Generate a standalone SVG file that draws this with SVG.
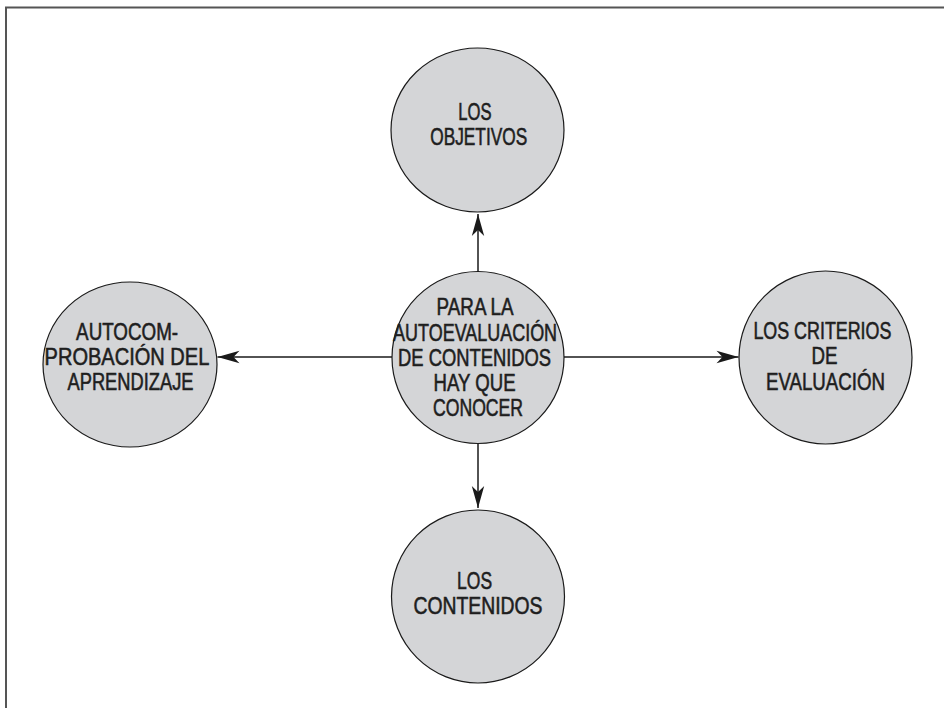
<svg xmlns="http://www.w3.org/2000/svg" width="944" height="708" viewBox="0 0 944 708">
<style>
.node{fill:#d4d5d7;stroke:#1a1a1a;stroke-width:1.2}
.lbl{font-family:"Liberation Sans",Arial,sans-serif;font-size:24.5px;fill:#1e1e1e;stroke:#1e1e1e;stroke-width:0.6;text-anchor:middle}
.conn{stroke:#1a1a1a;stroke-width:1.5;fill:none;marker-end:url(#ah)}
</style>
<defs>
<marker id="ah" markerUnits="userSpaceOnUse" viewBox="-23 -7 24 14" refX="0" refY="0" markerWidth="24" markerHeight="14" orient="auto">
<path d="M0,0 L-22,-6.2 L-16,0 L-22,6.2 Z" fill="#1a1a1a"/>
</marker>
</defs>
<rect width="944" height="708" fill="#ffffff"/>
<path d="M6,708 V7.5 H944" fill="none" stroke="#555" stroke-width="2"/>
<g id="connectors">
<line class="conn" x1="478" y1="271" x2="478" y2="214"/>
<line class="conn" x1="478" y1="444" x2="478" y2="508"/>
<line class="conn" x1="392" y1="357" x2="217.5" y2="357"/>
<line class="conn" x1="564" y1="357" x2="738.5" y2="357"/>
</g>
<g id="center">
<circle class="node" cx="478" cy="357.5" r="86"/>
<text class="lbl">
<tspan x="478" y="315.3" textLength="76" lengthAdjust="spacingAndGlyphs">PARA LA</tspan>
<tspan x="478.5" y="340.7" textLength="164" lengthAdjust="spacingAndGlyphs">AUTOEVALUACIÓN</tspan>
<tspan x="478" y="366" textLength="153" lengthAdjust="spacingAndGlyphs">DE CONTENIDOS</tspan>
<tspan x="478" y="391.2" textLength="82" lengthAdjust="spacingAndGlyphs">HAY QUE</tspan>
<tspan x="478" y="416.3" textLength="90" lengthAdjust="spacingAndGlyphs">CONOCER</tspan>
</text>
</g>
<g id="objetivos">
<ellipse class="node" cx="477.5" cy="130" rx="86.5" ry="82"/>
<text class="lbl">
<tspan x="478.3" y="120.3" textLength="33.3" lengthAdjust="spacingAndGlyphs">LOS</tspan>
<tspan x="478.7" y="145" textLength="97" lengthAdjust="spacingAndGlyphs">OBJETIVOS</tspan>
</text>
</g>
<g id="autocomprobacion">
<ellipse class="node" cx="130" cy="364.5" rx="87" ry="82.5"/>
<text class="lbl">
<tspan x="130.5" y="340" textLength="102" lengthAdjust="spacingAndGlyphs">AUTOCOM-</tspan>
<tspan x="130" y="365" textLength="164" lengthAdjust="spacingAndGlyphs">PROBACIÓN DEL</tspan>
<tspan x="130.5" y="390" textLength="126" lengthAdjust="spacingAndGlyphs">APRENDIZAJE</tspan>
</text>
</g>
<g id="criterios">
<circle class="node" cx="825.5" cy="357.5" r="86.5"/>
<text class="lbl">
<tspan x="825.8" y="339.2" textLength="138" lengthAdjust="spacingAndGlyphs">LOS CRITERIOS</tspan>
<tspan x="828" y="364.2" textLength="26" lengthAdjust="spacingAndGlyphs">DE</tspan>
<tspan x="825.5" y="389.5" textLength="119" lengthAdjust="spacingAndGlyphs">EVALUACIÓN</tspan>
</text>
</g>
<g id="contenidos">
<circle class="node" cx="478" cy="596.5" r="86.5"/>
<text class="lbl">
<tspan x="478" y="589" textLength="35" lengthAdjust="spacingAndGlyphs">LOS</tspan>
<tspan x="478" y="614.3" textLength="129" lengthAdjust="spacingAndGlyphs">CONTENIDOS</tspan>
</text>
</g>
</svg>
